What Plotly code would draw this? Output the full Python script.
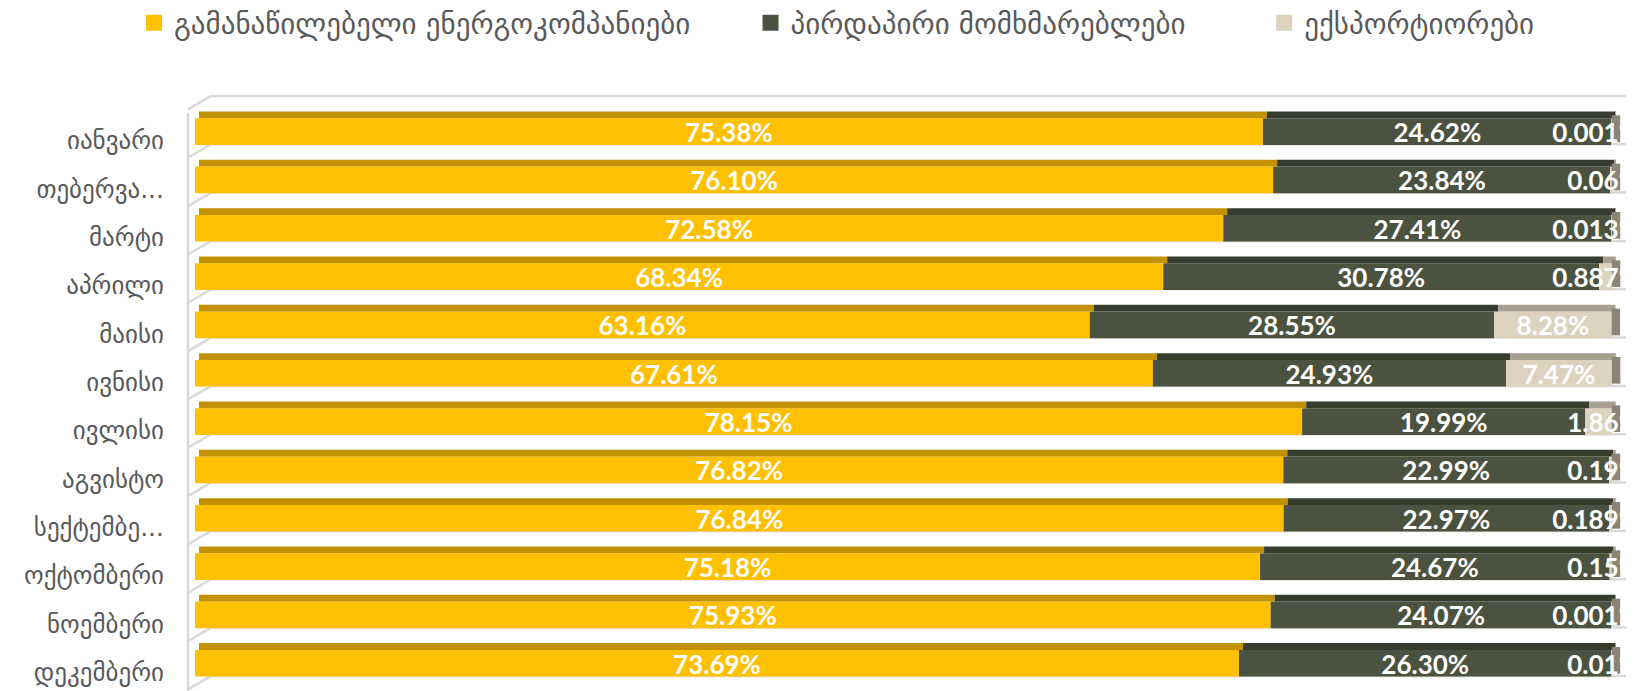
import plotly.graph_objects as go

# ---------------- data ----------------
months = ["იანვარი", "თებერვა...", "მარტი", "აპრილი", "მაისი", "ივნისი",
          "ივლისი", "აგვისტო", "სექტემბე...", "ოქტომბერი", "ნოემბერი", "დეკემბერი"]
distrib = [75.38, 76.10, 72.58, 68.34, 63.16, 67.61, 78.15, 76.82, 76.84, 75.18, 75.93, 73.69]
direct = [24.62, 23.84, 27.41, 30.78, 28.55, 24.93, 19.99, 22.99, 22.97, 24.67, 24.07, 26.30]
export = [0.001, 0.06, 0.013, 0.887, 8.28, 7.47, 1.86, 0.19, 0.189, 0.15, 0.001, 0.01]
series_names = ["გამანაწილებელი ენერგოკომპანიები", "პირდაპირი მომხმარებლები", "ექსპორტიორები"]

# ---------------- style ----------------
front_cols = ["#FFC000", "#4B5240", "#DCD2BE"]
top_cols = ["#C29100", "#373D2E", "#A79F8F"]
side_col = "#8C8575"
wall_col = "#D9D9D9"
grey_txt = "#595959"

W, H = 1634, 691
OFF = 8.0                      # page body margin of the html page
# geometry in page pixels (as seen in the screenshot)
X0_PX, X100_PX = 195.0, 1611.7
PPU = (X100_PX - X0_PX) / 100.0
PLOT_L, PLOT_R = 180.0, W + OFF
CAT0_PX, STEP = 131.6, 48.33
PLOT_T, PLOT_B = 90.0, H + OFF
TEXT_DROP = 4.0                # value labels sit a little below bar centre
TICK_DROP = 9.0                # category labels sit lower (3D floor)

def xd(px):
    return (px - X0_PX) / PPU

def yd(py):
    return (py - CAT0_PX) / STEP

BAR_W = 0.552
TOP_W = 0.14
SHIFT = 4.0 / PPU          # skew of the top face
DEPTH = 8.5 / PPU          # side face depth

series = [distrib, direct, export]
bases = []
run = [0.0] * len(months)
for s in series:
    bases.append(run[:])
    run = [r + v for r, v in zip(run, s)]
totals = run
cat_idx = list(range(len(months)))

fig = go.Figure()

# front faces
for s, b, c in zip(series, bases, front_cols):
    fig.add_trace(go.Bar(y=months, x=s, base=b, orientation="h", width=BAR_W,
                         marker=dict(color=c, line=dict(width=0)),
                         showlegend=False, hoverinfo="skip"))
# top faces
for s, b, c in zip(series, bases, top_cols):
    fig.add_trace(go.Bar(y=months, x=s, base=[v + SHIFT for v in b], orientation="h",
                         width=TOP_W, offset=-BAR_W / 2 - TOP_W,
                         marker=dict(color=c, line=dict(width=0)),
                         showlegend=False, hoverinfo="skip"))
# right side face
fig.add_trace(go.Bar(y=months, x=[DEPTH] * len(months), base=totals, orientation="h",
                     width=BAR_W, offset=-BAR_W / 2 - 0.06,
                     marker=dict(color=side_col, line=dict(width=0)),
                     showlegend=False, hoverinfo="skip"))

# labels
LIMIT = xd(1640)
for i, (s, b) in enumerate(zip(series, bases)):
    xs, pos, txt = [], [], []
    for v, bb in zip(s, b):
        mid = bb + v / 2
        t = f"{v:g}%" if i == 2 else f"{v:.2f}%"
        if (mid * PPU + X0_PX) + 38 > 1636:
            xs.append(LIMIT)
            pos.append("middle left")
        else:
            xs.append(mid)
            pos.append("middle center")
        txt.append(t)
    fig.add_trace(go.Scatter(y=months, x=xs, mode="text", text=txt, textposition=pos,
                             yaxis="y2",
                             textfont=dict(family="Lato", size=26, color="white", weight="bold"),
                             cliponaxis=False, showlegend=False, hoverinfo="skip"))

# carrier for the category tick-label axis (draws nothing)
fig.add_trace(go.Scatter(x=[None] * len(months), y=cat_idx, yaxis="y3", mode="markers",
                         marker=dict(opacity=0), showlegend=False, hoverinfo="skip"))

# legend entries (padding keeps the entries spread like the original)
pads = ["\u00a0" * 6, "\u00a0" * 8, ""]
for n, c, p in zip(series_names, front_cols, pads):
    fig.add_trace(go.Scatter(x=[None], y=[None], mode="markers", name=n + p,
                             marker=dict(symbol="square", size=16, color=c)))

# 3D wall lines
shapes = []
line = dict(color=wall_col, width=2.5)
shapes.append(dict(type="line", xref="x", yref="y", x0=xd(188), x1=xd(188),
                   y0=yd(113), y1=yd(PLOT_B), line=line, layer="below"))
for k in range(-1, len(months)):
    yb = CAT0_PX + (k + 0.5) * STEP
    shapes.append(dict(type="line", xref="x", yref="y", x0=xd(188), x1=xd(211),
                       y0=yd(yb + 2), y1=yd(yb - 11.5), line=line, layer="below"))
    shapes.append(dict(type="line", xref="x", yref="y", x0=xd(211), x1=xd(1628),
                       y0=yd(yb - 11.5), y1=yd(yb - 11.5), line=line, layer="below"))

fl, fr = PLOT_L - OFF, PLOT_R - OFF        # figure-pixel plot area
ft, fb = PLOT_T - OFF, PLOT_B - OFF

fig.update_layout(
    width=W, height=H,
    barmode="overlay",
    plot_bgcolor="white", paper_bgcolor="white",
    margin=dict(l=fl, r=W - fr, t=ft, b=H - fb, pad=0, autoexpand=False),
    shapes=shapes,
    showlegend=True,
    legend=dict(orientation="h", x=(149 - OFF - 15 - fl) / (fr - fl), xanchor="left",
                y=1 + (ft - (23 - OFF)) / (fb - ft), yanchor="middle",
                font=dict(family="DejaVu Sans", size=29, color=grey_txt),
                itemsizing="trace", bgcolor="rgba(0,0,0,0)"),
    xaxis=dict(range=[xd(PLOT_L), xd(PLOT_R)], visible=False, showgrid=False,
               zeroline=False, automargin=False),
    yaxis=dict(type="category", categoryorder="array", categoryarray=months,
               range=[yd(PLOT_B), yd(PLOT_T)], showgrid=False, zeroline=False,
               showline=False, showticklabels=False, ticks="", automargin=False),
    yaxis2=dict(type="category", categoryorder="array", categoryarray=months,
                overlaying="y", anchor="x",
                range=[yd(PLOT_B - TEXT_DROP), yd(PLOT_T - TEXT_DROP)], visible=False,
                automargin=False),
    yaxis3=dict(type="linear", overlaying="y", anchor="x", side="left",
                range=[yd(PLOT_B - TICK_DROP), yd(PLOT_T - TICK_DROP)],
                tickmode="array", tickvals=cat_idx, ticktext=months,
                showgrid=False, zeroline=False, showline=False,
                ticks="outside", ticklen=10, tickcolor="rgba(0,0,0,0)", automargin=False,
                tickfont=dict(family="DejaVu Sans", size=25, color=grey_txt)),
)

fig.write_html("out.html")
